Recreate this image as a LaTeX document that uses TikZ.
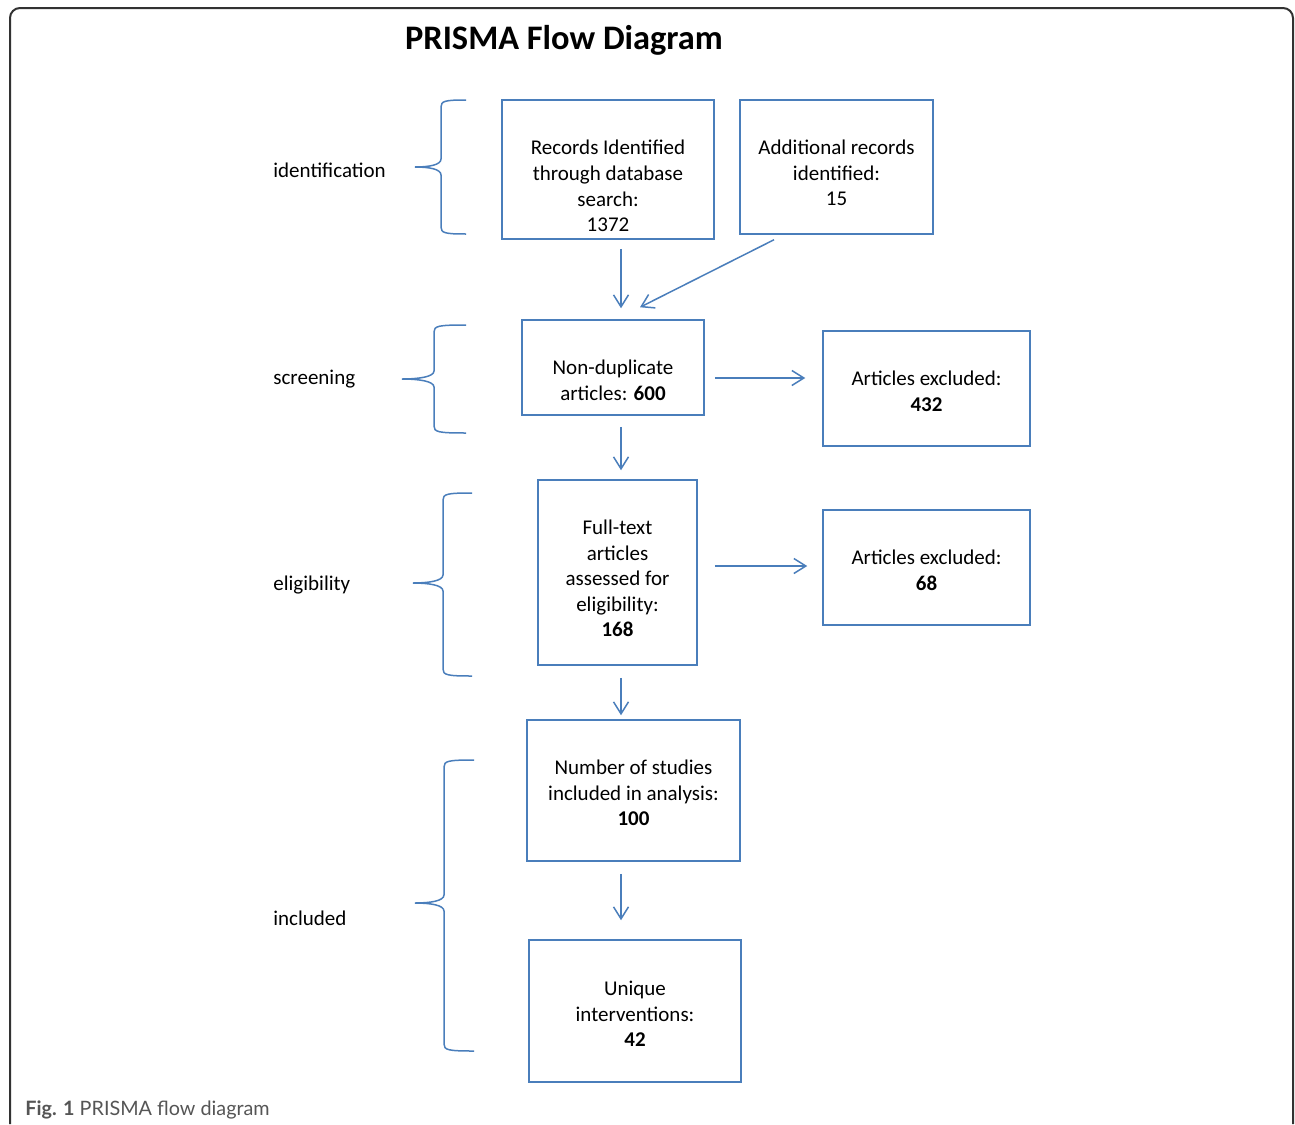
\documentclass[tikz,border=0pt]{standalone}
\usepackage{fontspec}
\setmainfont{Carlito}
\newfontfamily\capfont{Lato}
\usetikzlibrary{arrows.meta,calc}
\definecolor{prismablue}{RGB}{74,126,187}
\definecolor{framegray}{RGB}{50,50,50}
\definecolor{capgray}{RGB}{85,85,85}

\begin{document}
\begin{tikzpicture}[x=0.5pt,y=-0.5pt,
box1/.style={rectangle,draw=prismablue,line width=0.75pt,inner sep=0pt},
txt1/.style={align=center,font=\fontsize{10.5}{12.8}\selectfont,inner sep=0pt},
lab1/.style={anchor=west,font=\fontsize{10.5}{12.8}\selectfont,text height=7.5pt,text depth=2.2pt,inner sep=0pt},
arr1/.style={draw=prismablue,line width=0.75pt,-{Straight Barb[length=6pt,width=7.5pt]}},
brc1/.style={draw=prismablue,line width=0.75pt},
]
\useasboundingbox (0,0) rectangle (1295,1124);

% frame and caption
\draw[framegray,line width=1pt,rounded corners=5pt] (10,1124) -- (10,8) -- (1293,8) -- (1293,1124);
\node[anchor=base west,inner sep=0pt,text=capgray,font=\capfont\fontsize{9.9}{11}\selectfont] (caption) at (25,1115) {\textbf{Fig. 1} PRISMA flow diagram};

% PRISMA Flussdiagramm
\node[inner sep=0pt,font=\fontsize{17.2}{20}\selectfont\bfseries] (title) at (564,40) {PRISMA Flow Diagram};

\node[lab1] (identification) at (273,172) {identification};
\node[lab1] (screening) at (273,379) {screening};
\node[lab1] (eligibility) at (273,585) {eligibility};
\node[lab1] (included) at (273,920) {included};

\node[box1,minimum width=106pt,minimum height=69.5pt] (rec) at (608,169.5) {};
\node[box1,minimum width=96.5pt,minimum height=67pt] (add) at (836.5,167) {};
\node[box1,minimum width=91pt,minimum height=47.5pt] (nondup) at (613,367.5) {};
\node[box1,minimum width=103.5pt,minimum height=57.5pt] (excl1) at (926.5,388.5) {};
\node[box1,minimum width=79.5pt,minimum height=92.5pt] (full) at (617.5,572.5) {};
\node[box1,minimum width=103.5pt,minimum height=57.5pt] (excl2) at (926.5,567.5) {};
\node[box1,minimum width=106.5pt,minimum height=70.5pt] (studies) at (633.5,790.5) {};
\node[box1,minimum width=106pt,minimum height=71pt] (unique) at (635,1011) {};

\node[txt1] (recT) at (608,186) {Records Identified\\through database\\search:\\1372};
\node[txt1] (addT) at (836.5,173) {Additional records\\identified:\\15};
\node[txt1] (nondupT) at (613,380) {Non-duplicate\\articles: \textbf{600}};
\node[txt1] (excl1T) at (926.5,391.5) {Articles excluded:\\\textbf{432}};
\node[txt1] (fullT) at (617.5,578.5) {Full-text\\articles\\assessed for\\eligibility:\\\textbf{168}};
\node[txt1] (excl2T) at (926.5,570.5) {Articles excluded:\\\textbf{68}};
\node[txt1] (studiesT) at (633.5,793) {Number of studies\\included in analysis:\\\textbf{100}};
\node[txt1] (uniqueT) at (635,1014) {Unique\\interventions:\\\textbf{42}};

\draw[arr1] ($(rec.south)+(13,9)$) -- ($(nondup.north)+(8,-11)$);
\draw[arr1] ($(add.south)+(-62.5,5)$) -- ($(nondup.north)+(27,-12)$);
\draw[arr1] ($(nondup.east)+(10,10.5)$) -- ($(excl1.west)+(-17,-10.5)$);
\draw[arr1] ($(nondup.south)+(8,11)$) -- ($(full.north)+(3.5,-9)$);
\draw[arr1] ($(full.east)+(17,-6.5)$) -- ($(excl2.west)+(-15,-1.5)$);
\draw[arr1] ($(full.south)+(3.5,12)$) -- ($(studies.north)+(-12.5,-4)$);
\draw[arr1] ($(studies.south)+(-12.5,12)$) -- ($(unique.north)+(-14,-19)$);

% Klammern
\draw[brc1] (466,100) .. controls (445,100) and (441,101) .. (441,107) -- (441,159) .. controls (441,165) and (429,167) .. (415,167) .. controls (429,167) and (441,169) .. (441,175) -- (441,227) .. controls (441,233) and (445,234) .. (466,234);
\draw[brc1] (466,325) .. controls (438,325) and (434,326) .. (434,332) -- (434,371) .. controls (434,377) and (418,379) .. (402,379) .. controls (418,379) and (434,381) .. (434,387) -- (434,426) .. controls (434,432) and (438,433) .. (466,433);
\draw[brc1] (472,493) .. controls (447,493) and (443,494) .. (443,500) -- (443,575) .. controls (443,581) and (428,583) .. (413,583) .. controls (428,583) and (443,585) .. (443,591) -- (443,669) .. controls (443,675) and (447,676) .. (472,676);
\draw[brc1] (474,760) .. controls (448,760) and (444,761) .. (444,767) -- (444,895) .. controls (444,901) and (430,903) .. (415,903) .. controls (430,903) and (444,905) .. (444,911) -- (444,1044) .. controls (444,1050) and (448,1051) .. (474,1051);

\end{tikzpicture}
\end{document}
